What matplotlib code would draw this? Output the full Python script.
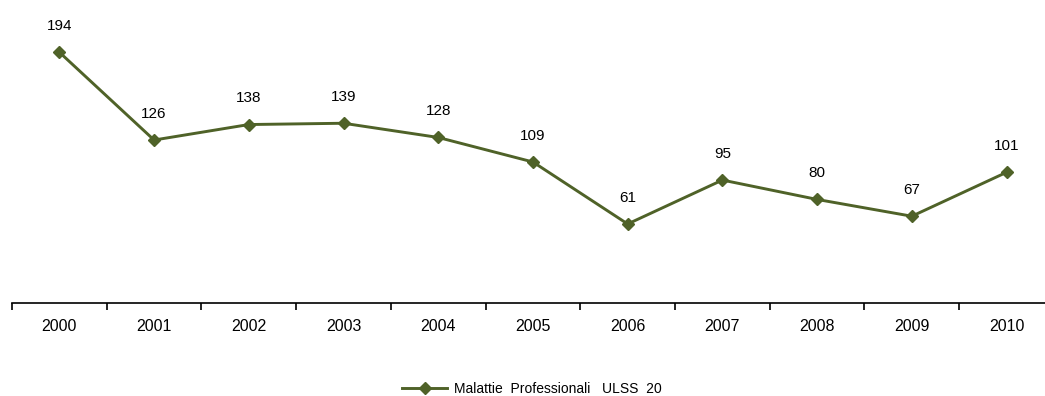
import matplotlib.pyplot as plt

years = ['2000', '2001', '2002', '2003', '2004', '2005', '2006', '2007', '2008', '2009', '2010']
cases = [194, 126, 138, 139, 128, 109, 61, 95, 80, 67, 101]
series_name = 'Malattie  Professionali   ULSS  20'

plt.rcParams['font.family'] = ['Liberation Sans', 'DejaVu Sans']
line_color = '#4F6228'

fig = plt.figure(figsize=(10.45, 3.96), dpi=100)
# the category axis runs a little past the right edge, as in the original
ax = fig.add_axes([0.0115, 0.2355, 0.997, 0.75], clip_on=False)

x = list(range(len(years)))
ax.plot(x, cases, color=line_color, linewidth=2.1, marker='D', markersize=6,
        label=series_name)
for xi, v in zip(x, cases):
    ax.annotate(str(v), (xi, v), xytext=(0, 19), textcoords='offset points',
                ha='center', va='center', fontsize=11)

ax.set_xlim(-0.5, len(years) - 0.5)
ax.set_ylim(0, 230)
ax.set_xticks(x)
ax.set_xticklabels(years, fontsize=11.5)
ax.set_xticks([i - 0.5 for i in range(len(years) + 1)], minor=True)
ax.tick_params(axis='x', which='major', length=0, pad=12)
ax.tick_params(axis='x', which='minor', length=5, width=1.2, direction='out')
ax.set_yticks([])
for side in ['top', 'right', 'left']:
    ax.spines[side].set_visible(False)
ax.spines['bottom'].set_linewidth(1.2)

fig.legend(loc='center', bbox_to_anchor=(0.509, 0.018), frameon=False, fontsize=10,
           handlelength=3.3, handletextpad=0.5)

fig.savefig('out.png', dpi=100)
